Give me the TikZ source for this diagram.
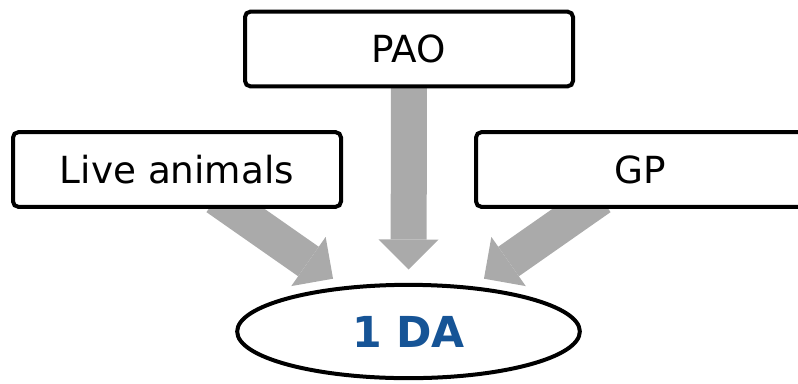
\documentclass[tikz,border=0pt]{standalone}
\usepackage{fontspec}
\setmainfont{DejaVu Sans}
\usetikzlibrary{arrows.meta,shapes.geometric,backgrounds}
\definecolor{flowgray}{RGB}{170,170,170}
\definecolor{dablue}{RGB}{22,84,150}

\begin{document}
\begin{tikzpicture}[x=0.75pt,y=0.75pt,yscale=-1,xscale=1,
  srcbox/.style={draw,line width=3pt,rounded corners=4pt,fill=white,minimum width=246pt,minimum height=56pt,inner sep=0pt,font=\fontsize{28}{33}\selectfont},
  target/.style={ellipse,draw,line width=3pt,fill=white,minimum width=257pt,minimum height=70pt,inner sep=0pt,text=dablue,font=\fontsize{32}{38}\selectfont\bfseries},
  flow/.style={color=flowgray,line width=27pt,-{Triangle[length=22.5pt,width=45pt,line width=0pt]},shorten <=-15pt,shorten >=10pt}]
\useasboundingbox (0,0) rectangle (798,383);

% Source boxes
\node[srcbox] (pao) at (409,49) {PAO};
\node[srcbox] (live) at (177,169.5) {Live animals};
\node[srcbox] (gp) at (640,169.5) {GP};
% Target
\node[target] (da) at (408.5,331.5) {1 DA};

% Block arrows
\begin{scope}[on background layer]
\draw[flow] (pao) -- (da);
\draw[flow] (live) -- (da);
\draw[flow] (gp) -- (da);
\end{scope}

\end{tikzpicture}
\end{document}
